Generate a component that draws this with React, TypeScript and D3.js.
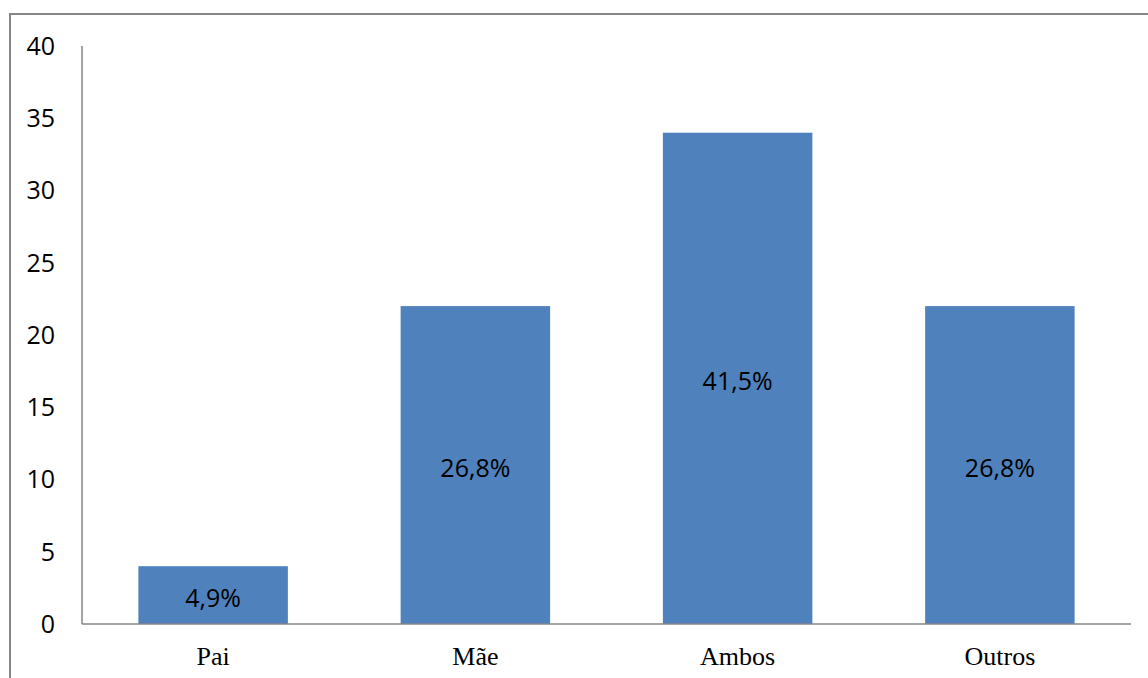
import React, { useEffect, useRef } from 'react';
import * as d3 from 'd3';

const categories = ['Pai', 'Mãe', 'Ambos', 'Outros'];
const values = [4, 22, 34, 22];
const percentLabels = ['4,9%', '26,8%', '41,5%', '26,8%'];
const yTicks = [0, 5, 10, 15, 20, 25, 30, 35, 40];

export default function App() {
  const svgRef = useRef<SVGSVGElement>(null);

  useEffect(() => {
    if (!svgRef.current) return;
    const svg = d3.select(svgRef.current);
    svg.selectAll('*').remove();

    const width = 1148;
    const height = 678;
    const left = 82;
    const right = 1131;
    const top = 46;
    const bottom = 624;
    const axisColor = '#868686';

    // outer frame: only top and left edges fall inside the window
    svg.append('path')
      .attr('d', `M10,${height + 5} L10,14 L${width + 5},14`)
      .attr('fill', 'none')
      .attr('stroke', axisColor)
      .attr('stroke-width', 2);

    const x = d3.scaleBand<string>()
      .domain(categories)
      .range([left, right])
      .paddingInner(0.43)
      .paddingOuter(0.215);

    const y = d3.scaleLinear().domain([0, 40]).range([bottom, top]);

    // y axis line
    svg.append('line')
      .attr('x1', left).attr('x2', left)
      .attr('y1', top).attr('y2', bottom)
      .attr('stroke', axisColor)
      .attr('stroke-width', 1.5);

    svg.append('g')
      .selectAll('text')
      .data(yTicks)
      .join('text')
      .attr('x', 55)
      .attr('y', d => y(d))
      .attr('dy', '0.35em')
      .attr('text-anchor', 'end')
      .style('font-family', '"Open Sans", sans-serif')
      .style('font-size', '25px')
      .attr('fill', '#000')
      .text(d => d);

    // bars
    svg.append('g')
      .selectAll('rect')
      .data(values)
      .join('rect')
      .attr('x', (_, i) => x(categories[i])!)
      .attr('y', d => y(d))
      .attr('width', x.bandwidth())
      .attr('height', d => y(0) - y(d))
      .attr('fill', '#4F81BD');

    // baseline
    svg.append('line')
      .attr('x1', left).attr('x2', right)
      .attr('y1', bottom).attr('y2', bottom)
      .attr('stroke', axisColor)
      .attr('stroke-width', 1.5);

    // value labels inside bars
    svg.append('g')
      .selectAll('text')
      .data(values)
      .join('text')
      .attr('x', (_, i) => x(categories[i])! + x.bandwidth() / 2)
      .attr('y', d => (y(d) + y(0)) / 2 + 3)
      .attr('dy', '0.35em')
      .attr('text-anchor', 'middle')
      .style('font-family', '"Open Sans", sans-serif')
      .style('font-size', '25px')
      .attr('fill', '#000')
      .text((_, i) => percentLabels[i]);

    // category labels
    svg.append('g')
      .selectAll('text')
      .data(categories)
      .join('text')
      .attr('x', d => x(d)! + x.bandwidth() / 2)
      .attr('y', 656)
      .attr('dy', '0.35em')
      .attr('text-anchor', 'middle')
      .style('font-family', '"Liberation Serif", "Times New Roman", serif')
      .style('font-size', '26px')
      .attr('fill', '#000')
      .text(d => d);
  }, []);

  return (
    <svg
      ref={svgRef}
      width={1148}
      height={678}
      style={{ position: 'absolute', left: 0, top: 0, background: '#fff' }}
    />
  );
}
